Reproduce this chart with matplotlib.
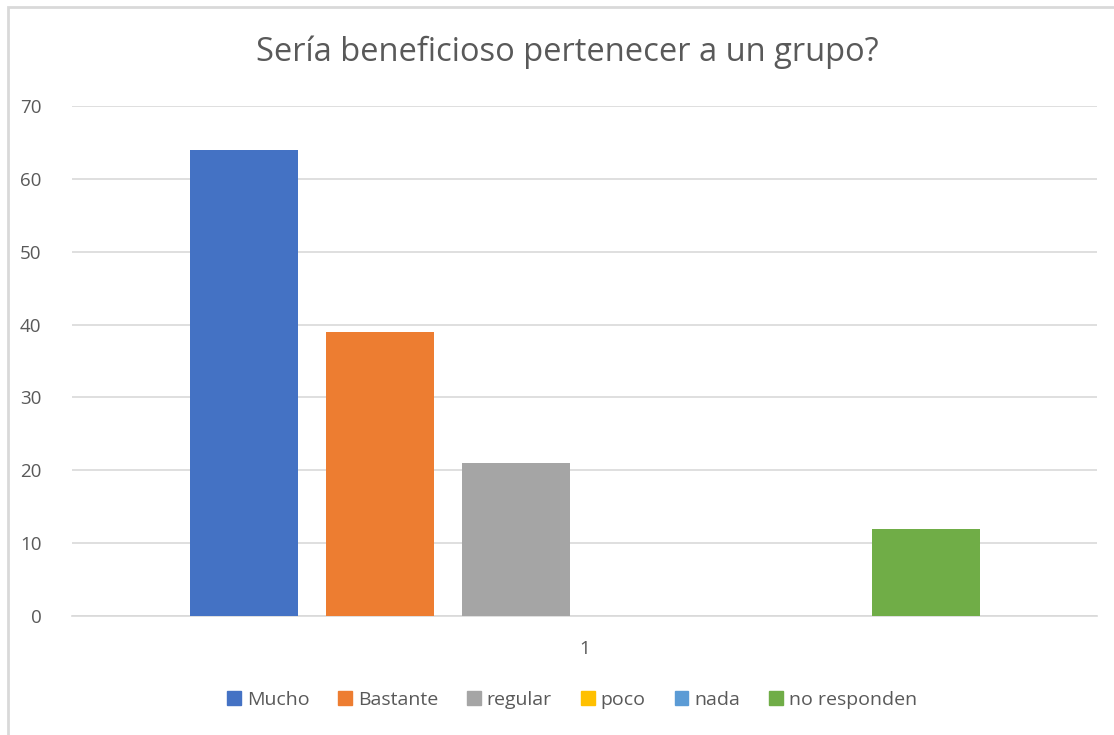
import matplotlib.pyplot as plt
from matplotlib.patches import Rectangle

series = ['Mucho', 'Bastante', 'regular', 'poco', 'nada', 'no responden']
values = [64, 39, 21, 0, 0, 12]
colors = ['#4472c4', '#ed7d31', '#a5a5a5', '#ffc000', '#5b9bd5', '#70ad47']
category = '1'

plt.rcParams['font.family'] = ['Open Sans', 'DejaVu Sans']
txt = '#595959'

fig = plt.figure(figsize=(11.14, 7.35), dpi=100)
W, H = 1114, 735
ax = fig.add_axes([72 / W, 1 - 616 / H, (1097 - 72) / W, (616 - 106) / H])

step = 136.4 / 1025
width = 108 / 1025
for i, (name, v, c) in enumerate(zip(series, values, colors)):
    ax.bar((i - 2.5) * step, v, width=width, color=c, label=name, zorder=3)

ax.set_xlim(-0.5, 0.5)
ax.set_ylim(0, 70)
ax.set_yticks(range(0, 71, 10))
ax.set_xticks([0])
ax.set_xticklabels([category])
ax.grid(axis='y', color='#d9d9d9', linewidth=1.2, zorder=0)
for s in ['top', 'right', 'left']:
    ax.spines[s].set_visible(False)
ax.spines['bottom'].set_color('#d9d9d9')
ax.spines['bottom'].set_linewidth(1.2)
ax.tick_params(axis='both', length=0, labelsize=13.5, colors=txt)
ax.tick_params(axis='y', pad=22)
ax.tick_params(axis='x', pad=17)

fig.text(567 / W, 1 - 52 / H, 'Sería beneficioso pertenecer a un grupo?',
         ha='center', va='center', fontsize=23.5, color=txt)

handles = [Rectangle((0, 0), 1, 1, color=c) for c in colors]
fig.legend(handles, series, loc='center', bbox_to_anchor=(572 / W, 1 - 700 / H),
           ncol=6, frameon=False, fontsize=14, labelcolor=txt,
           handlelength=0.7, handleheight=0.7, handletextpad=0.3, columnspacing=1.5)

fig.add_artist(Rectangle((8 / W, -0.1), 1.2, 1 - 7 / H + 0.1, transform=fig.transFigure,
                         fill=False, edgecolor='#d9d9d9', linewidth=2))

fig.savefig('out.png', dpi=100)
